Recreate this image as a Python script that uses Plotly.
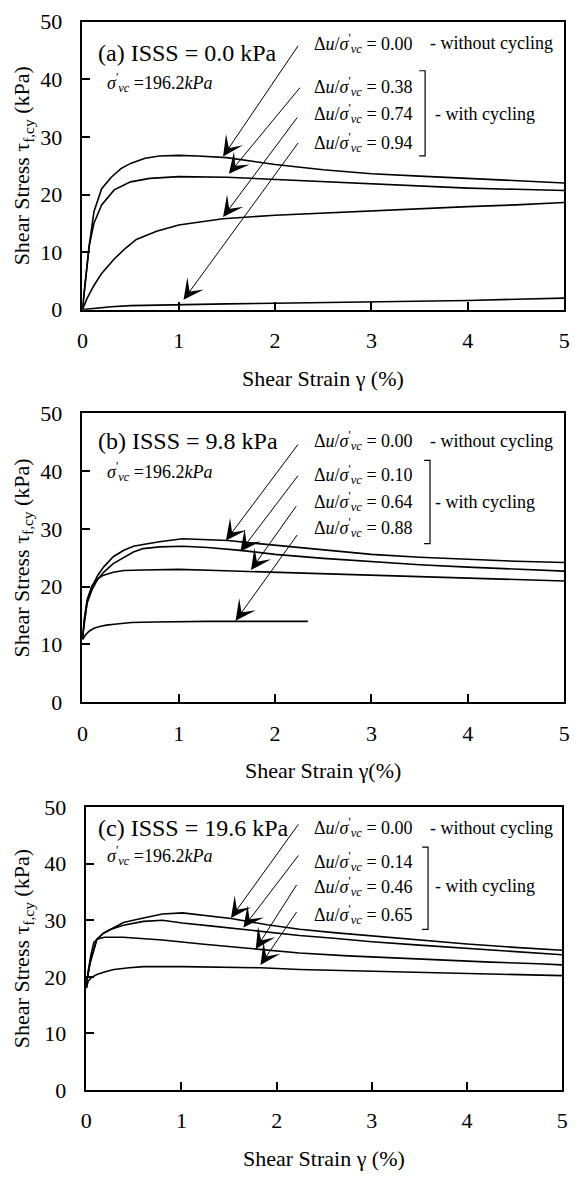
import plotly.graph_objects as go

W, H = 578, 1196
FONT = "Times New Roman, Liberation Serif, serif"

# ---------------- data ----------------
# Panel (a) ISSS = 0.0 kPa
a_x0 = [0, 0.03, 0.07, 0.12, 0.2, 0.3, 0.4, 0.5, 0.65, 0.8, 1.0, 1.2, 1.5, 1.8, 2.0, 2.5, 3.0, 3.5, 4.0, 4.5, 5.0]
a_y0 = [0, 5, 11, 17, 21, 23, 24.5, 25.4, 26.3, 26.7, 26.8, 26.7, 26.4, 25.7, 25.2, 24.3, 23.6, 23.2, 22.8, 22.4, 22.0]
a_x1 = [0, 0.03, 0.07, 0.12, 0.2, 0.33, 0.5, 0.7, 1.0, 1.5, 2.0, 2.5, 3.0, 3.5, 4.0, 4.5, 5.0]
a_y1 = [0, 5, 11, 15, 18.2, 20.8, 22.2, 22.8, 23.1, 23.0, 22.6, 22.2, 21.8, 21.4, 21.1, 20.9, 20.7]
a_x2 = [0, 0.05, 0.12, 0.2, 0.33, 0.45, 0.56, 0.77, 1.0, 1.46, 2.0, 2.5, 3.0, 3.5, 4.0, 4.5, 5.0]
a_y2 = [0, 2, 4.2, 6.3, 8.8, 10.7, 12.2, 13.6, 14.7, 15.8, 16.4, 16.8, 17.2, 17.6, 17.9, 18.2, 18.6]
a_x3 = [0, 0.1, 0.3, 0.5, 1.0, 1.5, 2.0, 2.5, 3.0, 3.5, 4.0, 4.5, 5.0]
a_y3 = [0, 0.2, 0.5, 0.7, 0.9, 1.0, 1.1, 1.2, 1.3, 1.4, 1.6, 1.8, 2.0]

# Panel (b) ISSS = 9.8 kPa
b_x0 = [0, 0.02, 0.05, 0.1, 0.16, 0.22, 0.32, 0.43, 0.53, 0.63, 0.8, 1.04, 1.3, 1.51, 1.8, 2.05, 2.5, 3.0, 3.5, 4.0, 4.5, 5.0]
b_y0 = [11, 14, 17.5, 20, 22, 23.4, 25.2, 26.3, 27.0, 27.3, 27.8, 28.3, 28.2, 28.0, 27.5, 27.1, 26.3, 25.6, 25.1, 24.7, 24.4, 24.2]
b_x1 = [0, 0.02, 0.05, 0.1, 0.16, 0.22, 0.32, 0.43, 0.53, 0.63, 0.8, 1.04, 1.3, 1.64, 2.0, 2.5, 3.0, 3.5, 4.0, 4.5, 5.0]
b_y1 = [11, 14, 17.2, 19.5, 21.3, 22.5, 24.0, 25.1, 26.0, 26.6, 26.9, 27.0, 26.8, 26.3, 25.6, 24.9, 24.3, 23.8, 23.4, 23.0, 22.7]
b_x2 = [0, 0.02, 0.05, 0.1, 0.16, 0.22, 0.32, 0.43, 0.63, 1.0, 1.4, 1.78, 2.25, 2.75, 3.25, 3.75, 4.25, 4.75, 5.0]
b_y2 = [11, 14.5, 17.8, 20.2, 21.4, 22.0, 22.5, 22.8, 22.9, 23.0, 22.8, 22.6, 22.4, 22.1, 21.9, 21.6, 21.4, 21.1, 21.0]
b_x3 = [0, 0.03, 0.07, 0.12, 0.18, 0.25, 0.33, 0.51, 0.75, 1.0, 1.3, 1.6, 2.0, 2.34]
b_y3 = [10.8, 11.6, 12.3, 12.8, 13.1, 13.35, 13.5, 13.8, 13.9, 14.0, 14.0, 14.0, 14.0, 14.0]

# Panel (c) ISSS = 19.6 kPa
c_x0 = [0, 0.01, 0.04, 0.08, 0.11, 0.18, 0.26, 0.39, 0.6, 0.8, 1.01, 1.21, 1.52, 1.9, 2.24, 2.6, 3.0, 3.5, 4.0, 4.5, 5.0]
c_y0 = [18, 19.7, 22.5, 25, 26.6, 27.7, 28.4, 29.6, 30.4, 31.1, 31.3, 30.9, 30.3, 29.2, 28.4, 27.8, 27.2, 26.5, 25.8, 25.2, 24.7]
c_x1 = [0, 0.01, 0.04, 0.08, 0.11, 0.18, 0.26, 0.39, 0.6, 0.8, 1.01, 1.3, 1.63, 2.24, 2.6, 3.0, 3.5, 4.0, 4.5, 5.0]
c_y1 = [18, 19.7, 22.5, 25, 26.6, 27.7, 28.4, 29.1, 29.8, 30.0, 29.5, 29.0, 28.4, 27.3, 26.8, 26.2, 25.6, 25.0, 24.4, 23.9]
c_x2 = [0, 0.02, 0.05, 0.08, 0.12, 0.19, 0.39, 0.8, 1.21, 1.76, 2.24, 2.75, 3.25, 3.75, 4.25, 4.75, 5.0]
c_y2 = [18, 21, 24, 26.1, 26.7, 27.0, 27.0, 26.5, 25.8, 24.9, 24.2, 23.7, 23.3, 22.9, 22.6, 22.3, 22.1]
c_x3 = [0, 0.02, 0.05, 0.11, 0.2, 0.29, 0.45, 0.6, 1.01, 1.4, 1.83, 2.24, 2.75, 3.25, 3.75, 4.25, 4.75, 5.0]
c_y3 = [18, 19.2, 19.8, 20.4, 20.9, 21.3, 21.6, 21.8, 21.8, 21.7, 21.6, 21.3, 21.1, 20.9, 20.7, 20.5, 20.3, 20.2]

panel_letters = ["a", "b", "c"]
isss_values = ["0.0", "9.8", "19.6"]
du_ratios = [["0.00", "0.38", "0.74", "0.94"],
             ["0.00", "0.10", "0.64", "0.88"],
             ["0.00", "0.14", "0.46", "0.65"]]
x_titles = ["Shear Strain γ (%)", "Shear Strain γ(%)", "Shear Strain γ (%)"]

# arrow tips (on curves) and tails (near labels), data coordinates
arrow_tips = [[(1.46, 26.6), (1.52, 23.6), (1.46, 16.1), (1.05, 1.7)],
              [(1.49, 28.0), (1.64, 26.1), (1.75, 22.9), (1.59, 14.1)],
              [(1.52, 30.4), (1.65, 28.7), (1.78, 24.9), (1.83, 22.1)]]
arrow_tails = [[(2.25, 46.1), (2.27, 38.8), (2.24, 33.6), (2.25, 29.2)],
               [(2.25, 44.9), (2.25, 39.5), (2.23, 34.2), (2.24, 29.2)],
               [(2.24, 47.2), (2.24, 41.7), (2.22, 36.5), (2.22, 31.7)]]

curves = [[(a_x0, a_y0), (a_x1, a_y1), (a_x2, a_y2), (a_x3, a_y3)],
          [(b_x0, b_y0), (b_x1, b_y1), (b_x2, b_y2), (b_x3, b_y3)],
          [(c_x0, c_y0), (c_x1, c_y1), (c_x2, c_y2), (c_x3, c_y3)]]

# ---------------- layout geometry (pixels) ----------------
frames = [dict(l=78, r=570, t=10, b=304),
          dict(l=78, r=570, t=410, b=705),
          dict(l=82, r=568, t=812, b=1101)]
title_y = [42, 438, 833]
sigma_y = [72, 469, 862]
line_y = [[32, 76, 104, 133], [438, 472, 500, 527], [833, 868, 893, 922]]
bracket = [dict(x=428, t=60, b=147), dict(x=433, t=458, b=543), dict(x=431, t=853, b=937)]


def PX(x):
    return x / W


def PY(y):
    return 1 - y / H


def txt(x, y, text, size, xanchor="left", **kw):
    return dict(x=PX(x), y=PY(y), xref="paper", yref="paper", xanchor=xanchor,
                yanchor="middle", text=text, showarrow=False,
                font=dict(family=FONT, size=size, color="black"), **kw)


fig = go.Figure()
annotations = []
shapes = []
layout = {}

for i in range(3):
    n = "" if i == 0 else str(i + 1)
    xa, ya = "x" + n, "y" + n
    f = frames[i]
    for (xs, ys) in curves[i]:
        fig.add_trace(go.Scatter(x=xs, y=ys, mode="lines", xaxis=xa, yaxis=ya,
                                 line=dict(color="black", width=1.6),
                                 showlegend=False, hoverinfo="skip"))
    common = dict(showline=True, mirror=True, linecolor="black", showgrid=False,
                  zeroline=False, ticks="inside", ticklen=8, tickwidth=1.5,
                  tickcolor="black", tickfont=dict(family=FONT, size=22, color="black"))
    layout["xaxis" + n] = dict(domain=[PX(f["l"]), PX(f["r"])], range=[0, 5], dtick=1,
                               anchor=ya, linewidth=2, ticklabelstandoff=10, **common)
    layout["yaxis" + n] = dict(domain=[PY(f["b"]), PY(f["t"])], range=[0, 50], dtick=10,
                               anchor=xa, linewidth=1.5, ticklabelstandoff=14, **common)

    cx = (f["l"] + f["r"]) / 2
    cy = (f["t"] + f["b"]) / 2
    # axis titles
    annotations.append(txt(cx, f["b"] + 70, x_titles[i], 22, xanchor="center"))
    annotations.append(txt(17, cy, "Shear Stress τ<sub>f,cy</sub> (kPa)", 22,
                           xanchor="center", textangle=-90))
    # panel title
    annotations.append(txt(92, title_y[i],
                           f"({panel_letters[i]}) ISSS = {isss_values[i]} kPa", 24))
    annotations.append(txt(101, sigma_y[i],
                           "<i>σ</i><sup>'</sup><sub><i>vc</i></sub> =196.2<i>kPa</i>", 18))
    # labels
    for k in range(4):
        annotations.append(txt(312, line_y[i][k],
                               f"Δ<i>u</i>/<i>σ</i><sup>'</sup><sub><i>vc</i></sub> = {du_ratios[i][k]}",
                               18))
    annotations.append(txt(431, line_y[i][0], "- without cycling", 18))
    annotations.append(txt(436, line_y[i][2], "- with cycling", 18))
    # bracket
    bk = bracket[i]
    shapes.append(dict(type="path", xref="paper", yref="paper",
                       path=f"M {PX(bk['x'] - 6)},{PY(bk['t'])} L {PX(bk['x'])},{PY(bk['t'])} "
                            f"L {PX(bk['x'])},{PY(bk['b'])} L {PX(bk['x'] - 6)},{PY(bk['b'])}",
                       line=dict(color="black", width=1.2)))
    # arrows
    for (tx, ty), (sx, sy) in zip(arrow_tips[i], arrow_tails[i]):
        annotations.append(dict(x=tx, y=ty, xref=xa, yref=ya, ax=sx, ay=sy,
                                axref=xa, ayref=ya, text="", showarrow=True,
                                arrowhead=3, arrowsize=3.4, arrowwidth=1, arrowcolor="black"))

fig.update_layout(width=W, height=H, margin=dict(l=0, r=0, t=0, b=0),
                  paper_bgcolor="white", plot_bgcolor="white",
                  annotations=annotations, shapes=shapes, **layout)

fig.write_html("out.html")
